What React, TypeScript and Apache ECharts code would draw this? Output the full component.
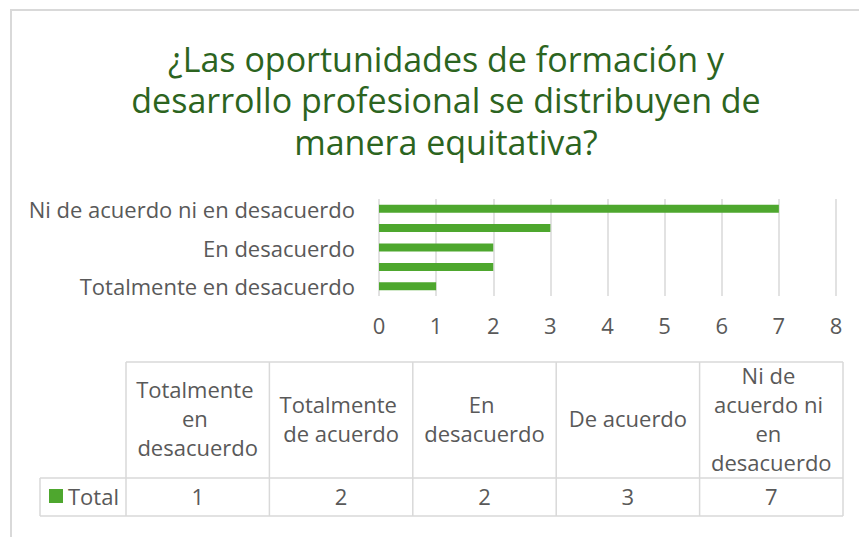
import React, { useEffect, useRef } from "react";
import * as echarts from "echarts";

const titleText = "¿Las oportunidades de formación y\ndesarrollo profesional se distribuyen de\nmanera equitativa?";
const categories = [
  "Totalmente en desacuerdo",
  "Totalmente de acuerdo",
  "En desacuerdo",
  "De acuerdo",
  "Ni de acuerdo ni en desacuerdo",
];
const values = [1, 2, 2, 3, 7];
const seriesName = "Total";
const xTicks = [0, 1, 2, 3, 4, 5, 6, 7, 8];

const FONT = "'Open Sans', sans-serif";
const GRAY = "#595959";
const LINE = "#d9d9d9";
const GREEN = "#4ea72e";
const TITLE = "#2c6420";
const FS = 22;

export default function App() {
  const ref = useRef<HTMLDivElement>(null);
  useEffect(() => {
    document.body.style.margin = "0";
    const chart = echarts.init(ref.current!, null, { renderer: "svg" });

    // table layout
    const tTop = 362, tMid = 478, tBot = 516, tLeft = 40;
    const cStart = 126, cEnd = 843;
    const cW = (cEnd - cStart) / categories.length;
    const g: any[] = [];
    const ls = { stroke: LINE, lineWidth: 1.5 };
    g.push({ type: "line", shape: { x1: cStart, y1: tTop, x2: cEnd, y2: tTop }, style: ls });
    g.push({ type: "line", shape: { x1: tLeft, y1: tMid, x2: cEnd, y2: tMid }, style: ls });
    g.push({ type: "line", shape: { x1: tLeft, y1: tBot, x2: cEnd, y2: tBot }, style: ls });
    g.push({ type: "line", shape: { x1: tLeft, y1: tMid, x2: tLeft, y2: tBot }, style: ls });
    for (let i = 0; i <= categories.length; i++) {
      const x = cStart + i * cW;
      g.push({ type: "line", shape: { x1: x, y1: tTop, x2: x, y2: tBot }, style: ls });
    }
    categories.forEach((c, i) => {
      const cx = cStart + (i + 0.5) * cW;
      g.push({
        type: "text",
        x: cx,
        y: 418,
        style: {
          text: c,
          width: cW - 8,
          overflow: "break",
          align: "center",
          verticalAlign: "middle",
          lineHeight: 29,
          fill: GRAY,
          font: `${FS}px ${FONT}`,
        },
      });
      g.push({
        type: "text",
        x: cx,
        y: 496,
        style: { text: String(values[i]), align: "center", verticalAlign: "middle", fill: GRAY, font: `${FS}px ${FONT}` },
      });
    });
    g.push({ type: "rect", shape: { x: 49, y: 489, width: 14, height: 14 }, style: { fill: GREEN } });
    g.push({
      type: "text",
      x: 68,
      y: 496,
      style: { text: seriesName, align: "left", verticalAlign: "middle", fill: GRAY, font: `${FS}px ${FONT}` },
    });
    // chart frame
    g.push({
      type: "rect",
      shape: { x: 11, y: 10, width: 900, height: 600 },
      style: { fill: "none", stroke: LINE, lineWidth: 2 },
    });

    chart.setOption({
      animation: false,
      backgroundColor: "#ffffff",
      title: {
        text: titleText,
        left: 441,
        top: 33,
        textAlign: "center",
        textStyle: { color: TITLE, fontSize: 34, fontWeight: "normal", fontFamily: FONT, lineHeight: 41.5 },
      },
      grid: { left: 379, right: 23, top: 199, bottom: 241, containLabel: false },
      xAxis: {
        type: "value",
        min: 0,
        max: xTicks[xTicks.length - 1],
        interval: 1,
        axisLine: { show: false },
        axisTick: { show: false },
        splitLine: { show: true, lineStyle: { color: LINE, width: 1.5 } },
        axisLabel: { color: GRAY, fontSize: FS, fontFamily: FONT, margin: 18 },
      },
      yAxis: {
        type: "category",
        data: categories,
        axisLine: { show: false },
        axisTick: { show: false },
        axisLabel: { interval: 1, color: GRAY, fontSize: FS, fontFamily: FONT, margin: 24 },
      },
      series: [
        {
          name: seriesName,
          type: "bar",
          data: values,
          barWidth: 8,
          itemStyle: { color: GREEN },
        },
      ],
      graphic: g,
    });
    return () => chart.dispose();
  }, []);
  return <div ref={ref} style={{ position: "fixed", left: 0, top: 0, width: 859, height: 537 }} />;
}
